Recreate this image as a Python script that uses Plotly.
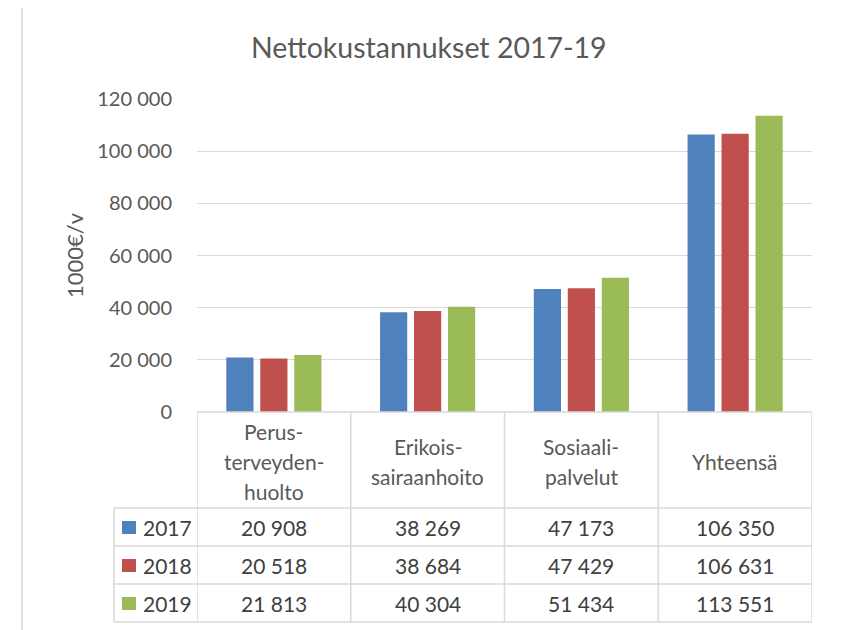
import plotly.graph_objects as go

# ---- data ----
category_labels = ["Perus-<br>terveyden-<br>huolto", "Erikois-<br>sairaanhoito", "Sosiaali-<br>palvelut", "Yhteensä"]
years = ["2017", "2018", "2019"]
values_2017 = [20908, 38269, 47173, 106350]
values_2018 = [20518, 38684, 47429, 106631]
values_2019 = [21813, 40304, 51434, 113551]
y_tick_values = [0, 20000, 40000, 60000, 80000, 100000, 120000]
title_text = "Nettokustannukset 2017-19"
y_title = "1000€/v"

series = [values_2017, values_2018, values_2019]
colors = ["#4F81BD", "#C0504D", "#9BBB59"]

FONT = "Lato"
GRID = "#D9D9D9"
TXT = "#595959"
VAL = "#404040"

# page offset (browser body margin)
OFF = 8
W, H = 845 - OFF, 630 - OFF
PLOT_L, PLOT_R, PLOT_T, PLOT_B = 197, 812, 99, 412   # screen pixels
L = PLOT_L - OFF
T = PLOT_T - OFF
R = W - (PLOT_R - OFF)
B = H - (PLOT_B - OFF)
PW = W - L - R
PH = H - T - B


def px_x(px):
    return (px - PLOT_L) / PW


def px_y(py):
    return (PLOT_B - py) / PH


def fmt(v):
    return f"{v:,}".replace(",", " ")


n = len(category_labels)
xs = list(range(n))

fig = go.Figure()
for yr, vals, col in zip(years, series, colors):
    fig.add_trace(go.Bar(x=xs, y=vals, name=yr, marker=dict(color=col, line=dict(width=0)),
                         hoverinfo="x+y"))

shapes = []
annotations = []
line = dict(color=GRID, width=1.5)

# outer chart border
shapes.append(dict(type="rect", xref="paper", yref="paper", x0=px_x(22), x1=px_x(841),
                   y0=px_y(645), y1=px_y(7), line=dict(color=GRID, width=1.5)))

# data table geometry (screen pixel rows)
table_top = 412
header_bottom = 508
row_h = 38
legend_left = 114
row_lines = [header_bottom + i * row_h for i in range(len(years) + 1)]

# vertical lines at category boundaries
for i in range(n + 1):
    shapes.append(dict(type="line", xref="x", yref="paper", x0=i - 0.5, x1=i - 0.5,
                       y0=px_y(table_top), y1=px_y(row_lines[-1]), line=line))
# legend column left line
shapes.append(dict(type="line", xref="paper", yref="paper", x0=px_x(legend_left), x1=px_x(legend_left),
                   y0=px_y(header_bottom), y1=px_y(row_lines[-1]), line=line))
# horizontal lines
shapes.append(dict(type="line", xref="paper", yref="paper", x0=0, x1=1,
                   y0=px_y(table_top), y1=px_y(table_top), line=line))
for ry in row_lines:
    shapes.append(dict(type="line", xref="paper", yref="paper", x0=px_x(legend_left), x1=1,
                       y0=px_y(ry), y1=px_y(ry), line=line))

# header labels (each line placed separately)
header_center = (table_top + header_bottom) / 2 + 1
line_spacing = 30
for i, lab in enumerate(category_labels):
    parts = lab.split("<br>")
    k = len(parts)
    for j, p in enumerate(parts):
        yc = header_center + (j - (k - 1) / 2) * line_spacing
        annotations.append(dict(x=i, xref="x", y=px_y(yc), yref="paper", text=p, showarrow=False,
                                xanchor="center", yanchor="middle",
                                font=dict(family=FONT, size=21, color=TXT)))

# value rows + legend keys
for r, (yr, vals, col) in enumerate(zip(years, series, colors)):
    yc = header_bottom + row_h * r + row_h / 2
    for i, v in enumerate(vals):
        annotations.append(dict(x=i, xref="x", y=px_y(yc), yref="paper", text=fmt(v), showarrow=False,
                                xanchor="center", yanchor="middle",
                                font=dict(family=FONT, size=21, color=VAL)))
    shapes.append(dict(type="rect", xref="paper", yref="paper", x0=px_x(122), x1=px_x(136),
                       y0=px_y(yc + 7), y1=px_y(yc - 6), fillcolor=col, line=dict(width=0)))
    annotations.append(dict(x=px_x(141), xref="paper", y=px_y(yc), yref="paper", text=yr, showarrow=False,
                            xanchor="left", yanchor="middle",
                            font=dict(family=FONT, size=21, color=VAL)))

# title
annotations.append(dict(x=px_x(429), xref="paper", y=px_y(47), yref="paper", text=title_text,
                        showarrow=False, xanchor="center", yanchor="middle",
                        font=dict(family=FONT, size=28.5, color=TXT)))
# y axis title
annotations.append(dict(x=px_x(74), xref="paper", y=px_y(255), yref="paper", text=y_title,
                        showarrow=False, textangle=-90, xanchor="center", yanchor="middle",
                        font=dict(family=FONT, size=22, color=TXT)))

fig.update_layout(
    width=W, height=H, autosize=False,
    margin=dict(l=L, r=R, t=T, b=B, pad=0),
    paper_bgcolor="white", plot_bgcolor="white",
    barmode="group", bargap=0.337, bargroupgap=0.2,
    showlegend=False,
    separators=". ",
    font=dict(family=FONT, color=TXT),
    xaxis=dict(range=[-0.5, n - 0.5], showticklabels=False, showgrid=False, zeroline=False,
               showline=False, ticks="", fixedrange=True),
    yaxis=dict(range=[0, 120000], tickvals=y_tick_values, tickformat=",d", showgrid=True,
               gridcolor=GRID, gridwidth=1, zeroline=False, showline=False, ticks="",
               ticklabelstandoff=24, tickfont=dict(family=FONT, size=20, color=TXT), fixedrange=True),
    shapes=shapes,
    annotations=annotations,
)

fig.write_html("out.html")
